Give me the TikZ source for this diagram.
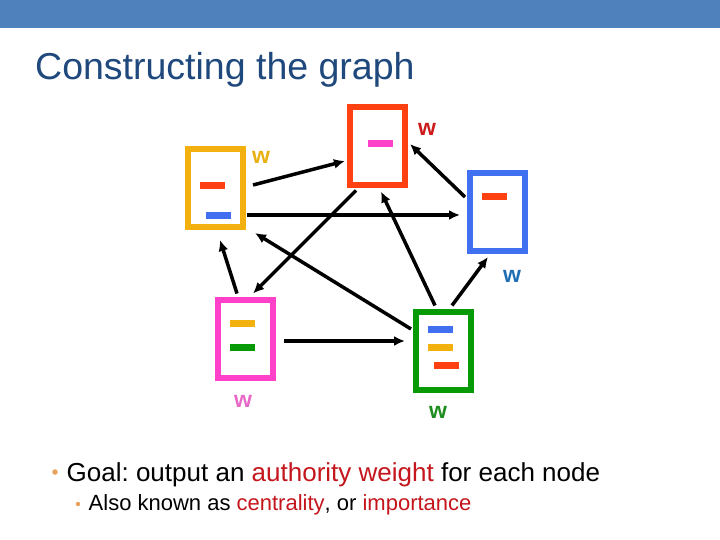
\documentclass[tikz,border=0pt]{standalone}
\usepackage{fontspec}
\setmainfont{Liberation Sans}[BoldFont={Liberation Sans Bold}]
\usepackage{tikz}
\usetikzlibrary{arrows.meta}
\usetikzlibrary{positioning}
\frenchspacing

\definecolor{barblue}{HTML}{4F81BD}
\definecolor{titleblue}{HTML}{1F497D}
\definecolor{pgyellow}{HTML}{F2B10E}
\definecolor{pgred}{HTML}{FF4010}
\definecolor{pgblue}{HTML}{4070F0}
\definecolor{pgmagenta}{HTML}{FF40C8}
\definecolor{pggreen}{HTML}{079A07}
\definecolor{wyellow}{HTML}{E8B010}
\definecolor{wred}{HTML}{CC1B1B}
\definecolor{wblue}{HTML}{1F6EB5}
\definecolor{wmagenta}{HTML}{E868C8}
\definecolor{wgreen}{HTML}{1E8C1E}
\definecolor{hilite}{HTML}{C4161C}
\definecolor{bulletc}{HTML}{E8A060}

\begin{document}
\begin{tikzpicture}[
    x=1pt, y=-1pt,
    page/.style={
        rectangle,
        draw=#1,
        line width=6pt,
        minimum width=55pt,
        minimum height=78pt,
        inner sep=0pt
    },
    bar/.style={
        rectangle,
        fill=#1,
        minimum width=25pt,
        minimum height=7pt,
        inner sep=0pt,
        outer sep=0pt
    },
    weight/.style={
        text=#1,
        inner sep=0pt,
        font=\fontsize{23}{23}\selectfont\bfseries
    },
    dot/.style={
        circle,
        fill=bulletc,
        minimum size=#1,
        inner sep=0pt
    },
    link/.style={
        ->,
        >={Latex[length=11pt,width=10pt]},
        line width=3.5pt
    }
]
\useasboundingbox (0,0) rectangle (720,540);
\fill[white] (0,0) rectangle (720,540);
\fill[barblue] (0,0) rectangle (720,28);

\node[anchor=base west, inner sep=0pt, text=titleblue,
      font=\fontsize{37.5}{40}\selectfont] (title) at (35,80) {Constructing the graph};

\node [page=pgyellow] (yel) at (215.5,188) {};
\node [page=pgred] (red) at (377.5,146.5) {};
\node [page=pgblue] (blu) at (497.5,212) {};
\node [page=pgmagenta] (mag) at (245.5,338.5) {};
\node [page=pggreen] (grn) at (443.5,350.5) {};

\node [bar=pgred] (yel1) at ([xshift=-3pt,yshift=2.5pt]yel.center) {};
\node [bar=pgblue] (yel2) at ([xshift=3pt,yshift=-27.5pt]yel.center) {};
\node [bar=pgmagenta] (red1) at ([xshift=3pt,yshift=3pt]red.center) {};
\node [bar=pgred] (blu1) at ([xshift=-3pt,yshift=15pt]blu.center) {};
\node [bar=pgyellow] (mag1) at ([xshift=-3pt,yshift=15pt]mag.center) {};
\node [bar=pggreen] (mag2) at ([xshift=-3pt,yshift=-9pt]mag.center) {};
\node [bar=pgblue] (grn1) at ([xshift=-3pt,yshift=21pt]grn.center) {};
\node [bar=pgyellow] (grn2) at ([xshift=-3pt,yshift=3pt]grn.center) {};
\node [bar=pgred] (grn3) at ([xshift=3pt,yshift=-15pt]grn.center) {};

\node [weight=wyellow] (wyel) at (261,157) {w};
\node [weight=wred] (wred) at (427,129) {w};
\node [weight=wblue] (wblu) at (512,276) {w};
\node [weight=wmagenta] (wmag) at (243,401) {w};
\node [weight=wgreen] (wgrn) at (438,412) {w};

\draw[link] ([xshift=7pt,yshift=3pt]yel.east) -- ([xshift=-2pt,yshift=-14.5pt]red.west);
\draw[link] ([xshift=1pt,yshift=-27pt]yel.east) -- ([xshift=-7pt,yshift=-3pt]blu.west);
\draw[link] ([xshift=-2pt,yshift=15pt]blu.west) -- ([xshift=2pt,yshift=2.5pt]red.east);
\draw[link] ([xshift=-21.5pt,yshift=-2pt]red.south) -- ([xshift=7.5pt,yshift=3pt]mag.north);
\draw[link] ([xshift=-8.5pt,yshift=3pt]grn.north) -- ([xshift=3.5pt,yshift=-3pt]red.south);
\draw[link] ([xshift=-2pt,yshift=21.5pt]grn.west) -- ([xshift=9pt,yshift=-3pt]yel.south east);
\draw[link] ([xshift=-8.5pt,yshift=3pt]mag.north) -- ([xshift=4.5pt,yshift=-10pt]yel.south);
\draw[link] ([xshift=8pt,yshift=-2.5pt]mag.east) -- ([xshift=-8pt,yshift=9.5pt]grn.west);
\draw[link] ([xshift=8.5pt,yshift=3pt]grn.north) -- ([xshift=-9.5pt,yshift=-3pt]blu.south);

% bullets
\node [dot=5.5pt] (b1) at (55,472) {};
\node [anchor=base west, inner sep=0pt, font=\fontsize{26}{28}\selectfont] (goal) at (66.5,481)
    {Goal: output an \textcolor{hilite}{authority weight} for each node};
\node [dot=4.5pt] (b2) at (78,504) {};
\node [anchor=base west, inner sep=0pt, font=\fontsize{22}{24}\selectfont] (known) at (88.5,510)
    {Also known as \textcolor{hilite}{centrality}, or \textcolor{hilite}{importance}};
\end{tikzpicture}
\end{document}
